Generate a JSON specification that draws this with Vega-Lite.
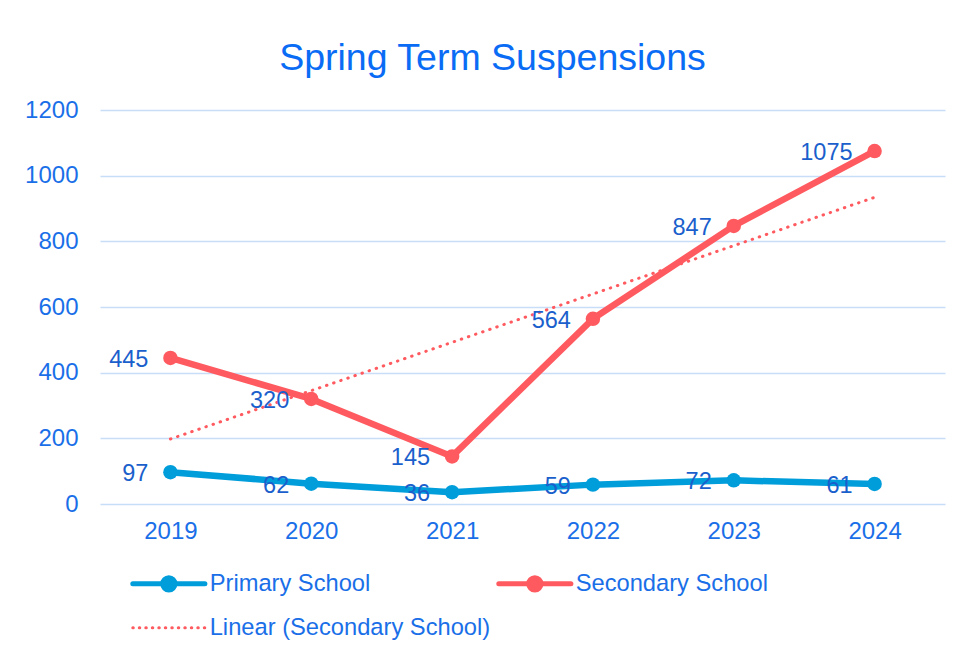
{
  "$schema": "https://vega.github.io/schema/vega-lite/v6.json",
  "autosize": {"type": "none"},
  "width": 845,
  "height": 394,
  "padding": {"left": 100, "top": 110, "right": 16, "bottom": 149},
  "background": "white",
  "config": {
    "font": "Liberation Sans",
    "view": {"stroke": null},
    "axis": {"labelFont": "Liberation Sans", "labelFontSize": 24, "labelColor": "#1a6fe8", "ticks": false, "domain": false, "title": null}
  },
  "title": {
    "text": "Spring Term Suspensions",
    "fontSize": 37.5,
    "font": "Liberation Sans",
    "fontWeight": "normal",
    "color": "#0a6cf5",
    "anchor": "middle",
    "dx": -30,
    "offset": 21
  },
  "data": {
    "values": [
      {"year": "2019", "series": "Primary School", "value": 97},
      {"year": "2020", "series": "Primary School", "value": 62},
      {"year": "2021", "series": "Primary School", "value": 36},
      {"year": "2022", "series": "Primary School", "value": 59},
      {"year": "2023", "series": "Primary School", "value": 72},
      {"year": "2024", "series": "Primary School", "value": 61},
      {"year": "2019", "series": "Secondary School", "value": 445},
      {"year": "2020", "series": "Secondary School", "value": 320},
      {"year": "2021", "series": "Secondary School", "value": 145},
      {"year": "2022", "series": "Secondary School", "value": 564},
      {"year": "2023", "series": "Secondary School", "value": 847},
      {"year": "2024", "series": "Secondary School", "value": 1075},
      {"year": "2019", "series": "Linear (Secondary School)", "value": 198},
      {"year": "2024", "series": "Linear (Secondary School)", "value": 934}
    ]
  },
  "encoding": {
    "x": {
      "field": "year", "type": "ordinal",
      "scale": {"type": "point", "padding": 0.5, "domain": ["2019","2020","2021","2022","2023","2024"]},
      "axis": {"labelAngle": 0, "labelPadding": 15, "grid": false}
    },
    "y": {
      "field": "value", "type": "quantitative",
      "scale": {"domain": [0, 1200], "nice": false},
      "axis": {"values": [0,200,400,600,800,1000,1200], "format": "d", "labelPadding": 22, "grid": true, "gridColor": "#c8def8", "gridWidth": 1.5}
    }
  },
  "layer": [
    {
      "transform": [{"filter": "datum.series === 'Linear (Secondary School)'"}],
      "mark": {"type": "line", "strokeWidth": 3, "strokeDash": [0.5, 7], "strokeCap": "round"},
      "encoding": {
        "color": {
          "field": "series", "type": "nominal",
          "scale": {"domain": ["Primary School", "Secondary School", "Linear (Secondary School)"], "range": ["#009ddb", "#ff5a5f", "#ff5a5f"]},
          "legend": {
            "orient": "none",
            "legendX": 57,
            "legendY": 462,
            "direction": "horizontal",
            "columns": 2,
            "title": null,
            "symbolType": "M-1,0H-0.17M0.17,0H1M-0.17,0A0.17,0.17 0 1,0 0.17,0A0.17,0.17 0 1,0 -0.17,0",
            "symbolSize": 5200,
            "symbolStrokeWidth": 5,
            "labelFontSize": 23.7,
            "labelColor": "#1a6fe8",
            "labelFont": "Liberation Sans",
            "labelOffset": 29,
            "labelLimit": 400,
            "rowPadding": 15,
            "columnPadding": -3,
            "encode": {
              "symbols": {
                "update": {
                  "fill": {"signal": "datum.value === 'Linear (Secondary School)' ? 'transparent' : scale('color', datum.value)"},
                  "stroke": {"signal": "scale('color', datum.value)"},
                  "shape": {"signal": "datum.value === 'Linear (Secondary School)' ? 'M-1,0H1' : 'M-1,0H-0.17M0.17,0H1M-0.17,0A0.17,0.17 0 1,0 0.17,0A0.17,0.17 0 1,0 -0.17,0'"},
                  "strokeDash": {"signal": "datum.value === 'Linear (Secondary School)' ? [0.5, 6] : []"},
                  "strokeWidth": {"signal": "datum.value === 'Linear (Secondary School)' ? 3 : 5"},
                  "strokeCap": {"value": "round"}
                }
              }
            }
          }
        }
      }
    },
    {
      "transform": [{"filter": "datum.series !== 'Linear (Secondary School)'"}],
      "mark": {"type": "line", "strokeWidth": 6.5, "strokeJoin": "round"},
      "encoding": {"color": {"field": "series", "type": "nominal"}}
    },
    {
      "transform": [{"filter": "datum.series !== 'Linear (Secondary School)'"}],
      "mark": {"type": "point", "filled": true, "size": 210, "opacity": 1},
      "encoding": {"color": {"field": "series", "type": "nominal"}}
    },
    {
      "transform": [{"filter": "datum.series !== 'Linear (Secondary School)'"}],
      "mark": {"type": "text", "align": "right", "baseline": "middle", "dx": -22, "dy": 2, "fontSize": 23.5, "color": "#1a5fcc", "font": "Liberation Sans"},
      "encoding": {"text": {"field": "value", "type": "quantitative"}}
    }
  ]
}
